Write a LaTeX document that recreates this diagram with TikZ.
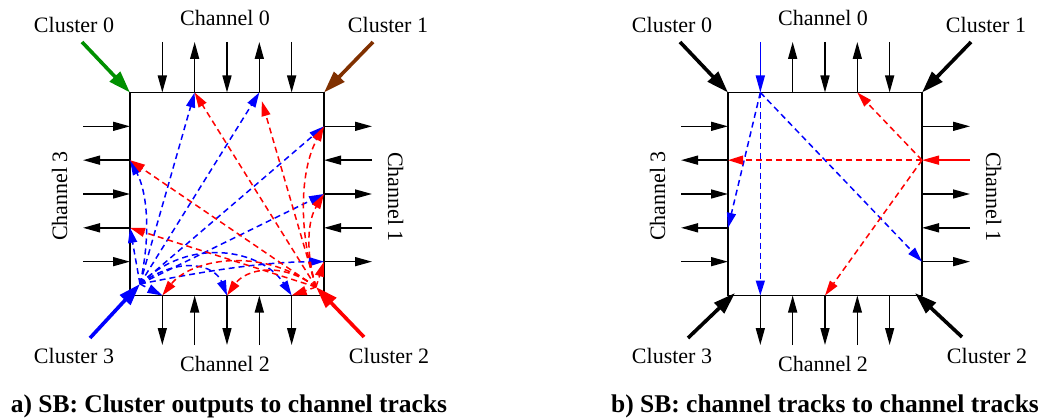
\documentclass[tikz,border=0pt]{standalone}
\usepackage{fontspec}
\setmainfont{Liberation Serif}
\newfontfamily\tms{Liberation Serif}
\usetikzlibrary{arrows.meta}
\definecolor{xgreen}{RGB}{0,144,0}
\definecolor{xbrown}{RGB}{128,48,0}
\definecolor{xblue}{RGB}{0,0,255}
\definecolor{xred}{RGB}{255,0,0}
\tikzset{
  chan/.style={line width=1.5pt, -{Triangle[length=17pt,width=9pt]}},
  sbbox/.style={draw, line width=1.7pt},
  clus/.style={line width=3.6pt, -{Triangle[length=22pt,width=14pt]}},
  trk/.style={dash pattern=on 6pt off 4pt, line width=1.5pt, -{Triangle[length=15pt,width=9pt]}},
  lbl/.style={font=\tms\fontsize{22}{24}\selectfont, inner sep=0pt, anchor=base},
  capt/.style={font=\tms\bfseries\fontsize{25.5}{28}\selectfont, inner sep=0pt, anchor=base}
}
\begin{document}
\begin{tikzpicture}[x=1pt,y=-1pt]
\useasboundingbox (0,0) rectangle (1045,420);
% ports for both diagrams
\foreach \p/\s in {a/0pt,b/598pt}{
  \begin{scope}[xshift=\s]
    \coordinate (\p nw) at (130,92.5);
    \coordinate (\p ne) at (324,92.5);
    \coordinate (\p sw) at (130,295.5);
    \coordinate (\p se) at (324,295.5);
    \foreach \k in {1,...,5}{
      \coordinate (\p t\k) at ({130+32.33*\k},92.5);
      \coordinate (\p T\k) at ({130+32.33*\k},42);
      \coordinate (\p b\k) at ({130+32.33*\k},295.5);
      \coordinate (\p B\k) at ({130+32.33*\k},345);
      \coordinate (\p l\k) at (130,{92.5+33.83*\k});
      \coordinate (\p L\k) at (83,{92.5+33.83*\k});
      \coordinate (\p r\k) at (324,{92.5+33.83*\k});
      \coordinate (\p R\k) at (372,{92.5+33.83*\k});
    }
    \coordinate (\p C0) at (82,42);
    \coordinate (\p C1) at (373,42);
    \coordinate (\p C3) at (90,338);
    \coordinate (\p C2) at (364,337);
    \node[lbl] (\p lc0) at (74,33) {Cluster 0};
    \node[lbl] (\p lh0) at (225,26) {Channel 0};
    \node[lbl] (\p lc1) at (388,33) {Cluster 1};
    \node[lbl] (\p lc3) at (74,363) {Cluster 3};
    \node[lbl] (\p lh2) at (225,371) {Channel 2};
    \node[lbl] (\p lc2) at (389,363) {Cluster 2};
    \node[lbl, rotate=90] (\p lh3) at (67,196) {Channel 3};
    \node[lbl, rotate=-90] (\p lh1) at (388,197) {Channel 1};
  \end{scope}
}
\coordinate (aO) at (140,284);
\coordinate (aQ) at (316,287);
\coordinate (bc3) at (735,293);
\coordinate (bc2) at (915,293);

% boxes
\foreach \p in {a,b}{
  \draw[sbbox] (\p nw) -- (\p ne) -- (\p se) -- (\p sw) -- cycle;
}

% channel arrows, diagram a
\foreach \k in {1,3,5}{
  \draw[chan] (aT\k) -- (at\k);
  \draw[chan] (aL\k) -- (al\k);
  \draw[chan] (ar\k) -- (aR\k);
  \draw[chan] (ab\k) -- (aB\k);
}
\foreach \k in {2,4}{
  \draw[chan] (at\k) -- (aT\k);
  \draw[chan] (al\k) -- (aL\k);
  \draw[chan] (aR\k) -- (ar\k);
  \draw[chan] (aB\k) -- (ab\k);
}
% channel arrows, diagram b
\foreach \k in {3,5}{ \draw[chan] (bT\k) -- (bt\k); }
\draw[chan, xblue] (bT1) -- (bt1);
\foreach \k in {1,3,5}{
  \draw[chan] (bL\k) -- (bl\k);
  \draw[chan] (br\k) -- (bR\k);
  \draw[chan] (bb\k) -- (bB\k);
}
\foreach \k in {2,4}{
  \draw[chan] (bt\k) -- (bT\k);
  \draw[chan] (bl\k) -- (bL\k);
  \draw[chan] (bB\k) -- (bb\k);
}
\draw[chan] (bR4) -- (br4);
\draw[chan, xred] (bR2) -- (br2);

% cluster arrows
\draw[clus, xgreen] (aC0) -- (anw);
\draw[clus, xbrown] (aC1) -- (ane);
\draw[clus, xblue] (aC3) -- (aO);
\draw[clus, xred] (aC2) -- (aQ);
\draw[clus] (bC0) -- (bnw);
\draw[clus] (bC1) -- (bne);
\draw[clus] (bC3) -- (bc3);
\draw[clus] (bC2) -- (bc2);

% diagram a: cluster 3 outputs (blue)
\begin{scope}[xblue]
  \draw[trk] (aO) -- (at2);
  \draw[trk] (aO) -- (at4);
  \draw[trk] (aO) -- (ar1);
  \draw[trk] (aO) -- (ar3);
  \draw[trk] (aO) .. controls (200,272) and (260,262) .. (ar5);
  \draw[trk] (aO) .. controls (152,230) and (146,190) .. (al2);
  \draw[trk] (aO) -- (al4);
  \draw[trk] (aO) -- (ab1);
  \draw[trk] (aO) .. controls (180,255) and (215,265) .. (ab3);
  \draw[trk] (aO) .. controls (190,235) and (262,250) .. (ab5);
\end{scope}
% diagram a: cluster 2 outputs (red)
\begin{scope}[xred]
  \draw[trk] (aQ) -- (at2);
  \draw[trk, shorten >=9pt] (aQ) -- (at4);
  \draw[trk] (aQ) .. controls (298,230) and (300,170) .. (ar1);
  \draw[trk] (aQ) .. controls (305,250) and (308,220) .. (ar3);
  \draw[trk] (aQ) -- (ar5);
  \draw[trk] (aQ) -- (al2);
  \draw[trk] (aQ) -- (al4);
  \draw[trk] (aQ) .. controls (260,245) and (190,260) .. (ab1);
  \draw[trk] (aQ) .. controls (280,260) and (245,270) .. (ab3);
  \draw[trk] (aQ) -- (ab5);
\end{scope}

% diagram b: track to track
\begin{scope}[xblue]
  \draw[trk] (bt1) -- (bb1);
  \draw[trk] (bt1) -- (bl4);
  \draw[trk] (bt1) -- (br5);
\end{scope}
\begin{scope}[xred]
  \draw[trk] (br2) -- (bl2);
  \draw[trk] (br2) -- (bt4);
  \draw[trk] (br2) -- (bb3);
\end{scope}

% captions
\node[capt] (capa) at (229,412) {a) SB: Cluster outputs to channel tracks};
\node[capt] (capb) at (825,412) {b) SB: channel tracks to channel tracks};
\end{tikzpicture}
\end{document}
